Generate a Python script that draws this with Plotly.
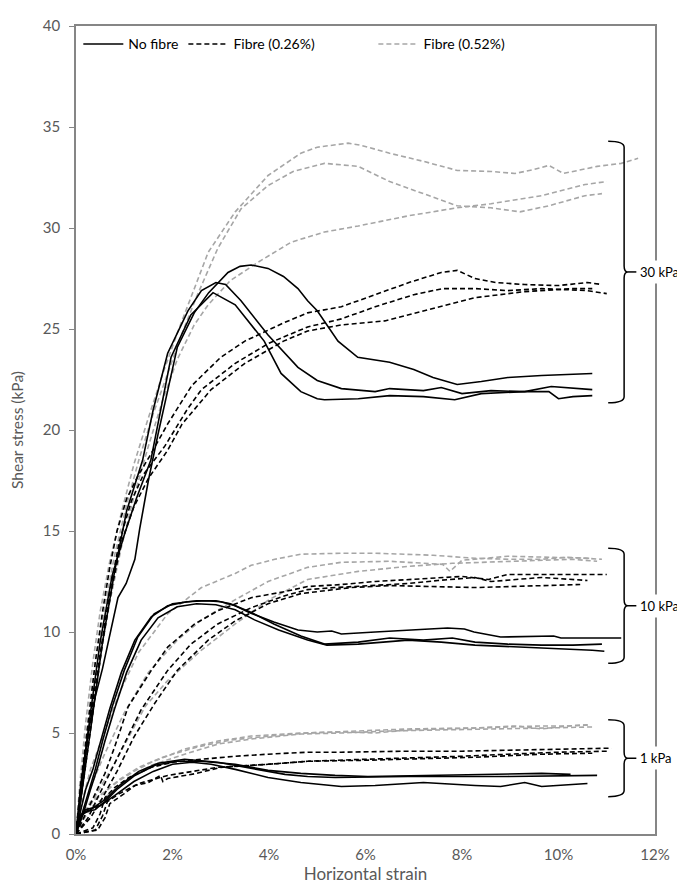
import plotly.graph_objects as go

# ---------------- DATA (strain in %, shear stress in kPa) ----------------
# 30 kPa, no fibre
x30_nf_a = [0, 0.1, 0.25, 0.4, 0.55, 0.7, 0.87, 1.04, 1.22, 1.32, 1.5, 1.7, 1.9, 2.1, 2.45, 2.75, 3.15, 3.4, 3.63, 3.98, 4.3, 4.6, 4.8, 5.0, 5.43, 5.84, 6.5, 7.0, 7.4, 7.9, 8.4, 8.95, 9.65, 10.7]
y30_nf_a = [0, 2.5, 5.0, 6.8, 8.2, 9.8, 11.7, 12.4, 13.6, 15.1, 17.5, 19.8, 22.0, 24.1, 25.8, 26.8, 27.8, 28.1, 28.17, 28.0, 27.6, 27.0, 26.4, 25.9, 24.4, 23.6, 23.35, 23.0, 22.6, 22.25, 22.4, 22.6, 22.7, 22.8]
x30_nf_b = [0, 0.15, 0.35, 0.55, 0.8, 1.05, 1.38, 1.6, 1.9, 2.32, 2.6, 2.9, 3.1, 3.42, 3.98, 4.6, 5.0, 5.5, 6.2, 6.5, 7.2, 7.57, 8.0, 8.6, 9.3, 9.85, 10.55, 10.7]
y30_nf_b = [0, 2.5, 6.0, 9.5, 13.0, 16.0, 18.5, 21.0, 23.8, 25.9, 26.9, 27.3, 27.2, 26.4, 24.7, 23.1, 22.45, 22.05, 21.9, 22.05, 21.95, 22.1, 21.8, 21.95, 21.9, 22.15, 22.05, 22.0]
x30_nf_c = [0, 0.12, 0.3, 0.5, 0.75, 1.0, 1.25, 1.55, 1.97, 2.38, 2.84, 3.3, 3.9, 4.25, 4.66, 5.0, 5.15, 5.85, 6.5, 7.2, 7.85, 8.4, 9.3, 9.8, 10.0, 10.3, 10.7]
y30_nf_c = [0, 2.5, 6.0, 9.5, 12.8, 14.8, 16.6, 18.5, 23.6, 25.7, 26.8, 26.2, 24.4, 22.8, 21.9, 21.55, 21.5, 21.55, 21.7, 21.65, 21.5, 21.8, 21.9, 21.9, 21.55, 21.65, 21.7]

# 30 kPa, fibre 0.26 %
x30_f26_a = [0, 0.1, 0.25, 0.4, 0.55, 0.7, 0.85, 1.05, 1.3, 1.55, 1.9, 2.4, 3.0, 3.5, 4.3, 4.8, 5.5, 6.2, 6.9, 7.57, 7.9, 8.27, 8.7, 9.3, 10.0, 10.6, 10.9]
y30_f26_a = [0, 2.5, 5.5, 8.5, 11.0, 13.2, 15.0, 16.6, 17.8, 18.8, 20.3, 22.2, 23.6, 24.4, 25.3, 25.8, 26.1, 26.7, 27.3, 27.8, 27.9, 27.5, 27.3, 27.2, 27.15, 27.3, 27.2]
x30_f26_b = [0, 0.12, 0.3, 0.5, 0.7, 0.9, 1.15, 1.4, 1.84, 2.3, 2.6, 3.3, 4.0, 4.8, 5.5, 6.2, 7.0, 7.6, 8.27, 8.95, 9.65, 10.6, 11.0]
y30_f26_b = [0, 2.5, 5.8, 9.0, 12.0, 14.5, 16.5, 17.8, 19.2, 21.0, 22.0, 23.3, 24.3, 25.1, 25.5, 26.1, 26.7, 27.0, 27.0, 26.9, 27.0, 26.9, 26.75]
x30_f26_c = [0, 0.15, 0.35, 0.55, 0.75, 0.95, 1.2, 1.5, 1.9, 2.2, 2.8, 3.5, 4.3, 4.8, 5.5, 6.4, 7.2, 8.27, 9.3, 10.3, 10.7]
y30_f26_c = [0, 2.5, 6.0, 9.5, 12.3, 14.5, 16.2, 17.6, 19.0, 20.3, 22.0, 23.3, 24.4, 24.9, 25.2, 25.4, 25.9, 26.55, 26.85, 27.0, 27.0]

# 30 kPa, fibre 0.52 %
x30_f52_a = [0, 0.08, 0.2, 0.35, 0.5, 0.7, 0.95, 1.2, 1.5, 1.8, 2.1, 2.32, 2.74, 3.3, 3.98, 4.66, 5.0, 5.64, 5.9, 6.5, 7.2, 7.9, 8.6, 9.1, 9.5, 9.8, 10.1, 10.8, 11.3, 11.65]
y30_f52_a = [0, 2.5, 5.5, 8.5, 11.0, 13.5, 16.0, 18.3, 20.6, 22.8, 24.8, 26.2, 28.8, 30.8, 32.6, 33.7, 34.0, 34.2, 34.1, 33.7, 33.3, 32.85, 32.8, 32.7, 32.9, 33.1, 32.7, 33.05, 33.2, 33.45]
x30_f52_b = [0, 0.1, 0.25, 0.4, 0.6, 0.8, 1.05, 1.3, 1.6, 1.9, 2.2, 2.5, 2.94, 3.42, 3.98, 4.5, 5.15, 5.85, 6.5, 7.2, 7.9, 8.6, 9.2, 9.8, 10.55, 10.9]
y30_f52_b = [0, 2.3, 5.5, 8.5, 11.3, 13.8, 16.3, 18.5, 20.8, 22.8, 24.8, 26.6, 29.0, 30.95, 32.1, 32.8, 33.2, 33.05, 32.3, 31.7, 31.1, 31.0, 30.8, 31.1, 31.6, 31.7]
x30_f52_c = [0, 0.12, 0.3, 0.5, 0.7, 0.95, 1.2, 1.5, 1.8, 2.1, 2.45, 2.74, 3.2, 3.77, 4.46, 5.15, 5.85, 6.88, 7.9, 8.6, 9.65, 10.55, 11.0]
y30_f52_c = [0, 2.5, 5.5, 8.7, 11.5, 14.3, 16.7, 19.2, 21.5, 23.5, 25.2, 26.2, 27.4, 28.3, 29.3, 29.8, 30.1, 30.6, 31.0, 31.2, 31.6, 32.15, 32.3]

# 10 kPa, no fibre
x10_nf_a = [0, 0.1, 0.2, 0.35, 0.5, 0.7, 0.94, 1.22, 1.56, 1.9, 2.3, 2.7, 3.0, 3.3, 3.6, 4.1, 4.6, 5.0, 5.3, 5.5, 6.2, 6.9, 7.7, 8.05, 8.25, 8.8, 9.5, 9.9, 10.05, 11.3]
y10_nf_a = [0, 1.2, 2.2, 3.2, 4.5, 6.2, 8.0, 9.6, 10.75, 11.3, 11.5, 11.55, 11.5, 11.3, 10.95, 10.5, 10.1, 10.0, 10.05, 9.9, 10.0, 10.1, 10.2, 10.15, 10.0, 9.75, 9.8, 9.8, 9.7, 9.7]
x10_nf_b = [0, 0.12, 0.25, 0.4, 0.55, 0.75, 1.0, 1.28, 1.62, 2.0, 2.5, 2.9, 3.2, 3.6, 4.1, 4.66, 5.15, 5.85, 6.5, 7.2, 7.8, 8.27, 8.95, 9.65, 10.3, 10.9]
y10_nf_b = [0, 1.0, 2.0, 3.2, 4.6, 6.3, 8.1, 9.75, 10.9, 11.4, 11.55, 11.55, 11.4, 11.0, 10.4, 9.8, 9.4, 9.5, 9.7, 9.6, 9.7, 9.5, 9.4, 9.35, 9.35, 9.4]
x10_nf_c = [0, 0.15, 0.3, 0.45, 0.6, 0.8, 1.05, 1.35, 1.7, 2.1, 2.5, 2.9, 3.3, 3.7, 4.2, 4.8, 5.2, 5.85, 6.88, 7.57, 8.27, 9.3, 10.0, 10.7, 10.95]
y10_nf_c = [0, 1.0, 2.2, 3.3, 4.6, 6.2, 8.0, 9.6, 10.7, 11.25, 11.4, 11.35, 11.1, 10.6, 10.1, 9.6, 9.35, 9.4, 9.6, 9.5, 9.35, 9.25, 9.2, 9.1, 9.05]

# 10 kPa, fibre 0.26 %
x10_f26_a = [0, 0.2, 0.4, 0.6, 0.8, 1.08, 1.56, 1.9, 2.46, 2.94, 3.63, 4.33, 4.8, 5.5, 6.2, 6.9, 7.57, 8.0, 8.55, 8.95, 10.0, 11.0]
y10_f26_a = [0, 1.0, 2.0, 3.0, 4.3, 6.3, 8.1, 9.25, 10.4, 11.05, 11.7, 12.0, 12.25, 12.35, 12.5, 12.6, 12.7, 12.75, 12.6, 12.85, 12.85, 12.85]
x10_f26_b = [0, 0.25, 0.45, 0.7, 1.0, 1.35, 1.9, 2.38, 2.94, 3.63, 4.33, 4.8, 5.37, 6.05, 6.88, 7.5, 8.27, 8.6, 9.2, 9.65, 10.6]
y10_f26_b = [0, 0.8, 1.8, 3.0, 4.5, 6.15, 8.1, 9.4, 10.4, 11.2, 11.8, 12.1, 12.2, 12.3, 12.4, 12.55, 12.7, 12.5, 12.6, 12.7, 12.55]
x10_f26_c = [0, 0.3, 0.55, 0.85, 1.2, 1.64, 2.1, 2.74, 3.3, 3.98, 4.66, 5.7, 6.5, 7.4, 8.27, 9.0, 9.65, 10.45]
y10_f26_c = [0, 0.8, 1.8, 3.1, 4.8, 6.5, 8.1, 9.6, 10.55, 11.4, 11.9, 12.2, 12.3, 12.25, 12.2, 12.25, 12.3, 12.35]

# 10 kPa, fibre 0.52 %
x10_f52_a = [0, 0.12, 0.3, 0.5, 0.9, 1.3, 1.9, 2.6, 3.3, 3.63, 4.12, 4.66, 5.5, 6.2, 6.8, 7.4, 8.27, 9.0, 9.65, 10.2, 10.9]
y10_f52_a = [0, 1.5, 3.2, 4.5, 7.0, 9.0, 10.9, 12.2, 12.9, 13.3, 13.6, 13.85, 13.9, 13.9, 13.85, 13.8, 13.65, 13.6, 13.6, 13.7, 13.6]
x10_f52_b = [0, 0.15, 0.35, 0.6, 1.0, 1.5, 2.1, 2.6, 3.3, 3.98, 4.8, 5.5, 6.5, 7.3, 7.6, 7.75, 8.0, 8.95, 10.0, 10.7]
y10_f52_b = [0, 1.2, 2.6, 4.0, 6.0, 8.0, 9.6, 10.6, 11.6, 12.5, 13.2, 13.45, 13.5, 13.4, 13.35, 13.0, 13.55, 13.75, 13.7, 13.65]
x10_f52_c = [0, 0.2, 0.5, 0.8, 1.43, 1.9, 2.6, 3.3, 4.0, 4.8, 5.85, 6.88, 7.8, 8.95, 10.3, 10.8]
y10_f52_c = [0, 1.0, 2.3, 3.5, 6.3, 7.6, 9.1, 10.4, 11.6, 12.6, 13.0, 13.25, 13.4, 13.5, 13.6, 13.5]

# 1 kPa, no fibre
x1_nf_a = [0, 0.04, 0.18, 0.39, 0.6, 0.87, 1.22, 1.64, 2.1, 2.6, 3.3, 3.98, 4.66, 5.37, 6.05, 7.57, 8.95, 9.65, 10.25]
y1_nf_a = [0, 0.6, 1.1, 1.2, 1.6, 2.25, 2.9, 3.4, 3.6, 3.6, 3.45, 3.15, 3.0, 2.9, 2.85, 2.9, 2.95, 3.0, 2.95]
x1_nf_b = [0, 0.05, 0.2, 0.5, 0.8, 1.2, 1.6, 2.0, 2.4, 2.8, 3.3, 3.98, 4.66, 5.5, 6.2, 7.2, 8.27, 8.8, 9.3, 9.65, 10.6]
y1_nf_b = [0, 0.8, 1.2, 1.4, 1.9, 2.6, 3.1, 3.45, 3.55, 3.45, 3.2, 2.8, 2.55, 2.35, 2.4, 2.55, 2.4, 2.35, 2.55, 2.35, 2.5]
x1_nf_c = [0, 0.08, 0.3, 0.6, 0.9, 1.3, 1.7, 2.25, 2.94, 3.63, 4.33, 4.8, 5.37, 6.88, 8.95, 10.8]
y1_nf_c = [0, 0.9, 1.2, 1.7, 2.4, 3.1, 3.5, 3.7, 3.55, 3.25, 2.95, 2.85, 2.8, 2.85, 2.85, 2.9]

# 1 kPa, fibre 0.26 %
x1_f26_a = [0, 0.35, 0.5, 0.6, 0.8, 1.1, 1.56, 2.0, 2.6, 3.3, 3.98, 4.8, 5.5, 6.88, 8.0, 8.95, 10.0, 11.1]
y1_f26_a = [0, 0.3, 1.0, 1.8, 2.3, 2.8, 3.3, 3.55, 3.7, 3.85, 3.95, 4.05, 4.05, 4.1, 4.1, 4.15, 4.2, 4.25]
x1_f26_b = [0, 0.4, 0.55, 0.65, 0.9, 1.3, 1.9, 2.5, 2.94, 3.98, 4.8, 5.37, 6.88, 8.0, 8.95, 10.0, 11.0]
y1_f26_b = [0, 0.2, 0.9, 1.6, 2.0, 2.5, 2.9, 3.15, 3.3, 3.45, 3.6, 3.65, 3.75, 3.85, 3.95, 4.05, 4.1]
x1_f26_c = [0, 0.45, 0.6, 0.7, 1.0, 1.22, 1.5, 1.75, 1.8, 1.9, 2.5, 3.0, 3.98, 4.8, 6.0, 7.0, 8.27, 9.65, 10.7]
y1_f26_c = [0, 0.2, 0.8, 1.5, 2.0, 2.4, 2.55, 2.9, 2.6, 2.75, 3.0, 3.3, 3.45, 3.6, 3.65, 3.7, 3.8, 3.95, 4.0]

# 1 kPa, fibre 0.52 %
x1_f52_a = [0, 0.1, 0.3, 0.55, 0.87, 1.2, 1.56, 2.25, 2.94, 3.63, 4.66, 5.5, 6.2, 6.9, 7.57, 8.3, 9.1, 9.65, 10.2, 10.65]
y1_f52_a = [0, 0.8, 1.5, 2.0, 2.6, 3.1, 3.55, 4.2, 4.6, 4.85, 5.0, 5.05, 5.0, 5.15, 5.2, 5.25, 5.35, 5.2, 5.35, 5.4]
x1_f52_b = [0, 0.15, 0.35, 0.65, 1.0, 1.56, 2.25, 2.94, 3.63, 4.66, 5.5, 6.5, 7.5, 8.95, 9.8, 10.7]
y1_f52_b = [0, 0.7, 1.4, 1.9, 2.6, 3.4, 3.95, 4.45, 4.7, 4.95, 5.0, 5.1, 5.15, 5.2, 5.25, 5.3]
x1_f52_c = [0, 0.12, 0.3, 0.6, 0.9, 1.3, 1.8, 2.5, 3.2, 4.0, 4.8, 5.8, 6.88, 8.27, 9.0, 9.65, 10.2, 10.6]
y1_f52_c = [0, 0.9, 1.6, 2.1, 2.7, 3.3, 3.8, 4.3, 4.65, 4.85, 5.0, 5.1, 5.2, 5.25, 5.3, 5.35, 5.35, 5.4]

x_ticks = [0, 2, 4, 6, 8, 10, 12]
y_ticks = [0, 5, 10, 15, 20, 25, 30, 35, 40]
series_names = ["No fibre", "Fibre (0.26%)", "Fibre (0.52%)"]
bracket_labels = ["30 kPa", "10 kPa", "1 kPa"]
bracket_top = [34.3, 14.15, 5.65]
bracket_bottom = [21.35, 8.45, 1.85]

# ---------------- FIGURE ----------------
BLACK = "#000000"
GREY = "#A6A6A6"
styles = {
    "No fibre": dict(color=BLACK, width=1.6, dash="solid"),
    "Fibre (0.26%)": dict(color=BLACK, width=1.6, dash="5px,3px"),
    "Fibre (0.52%)": dict(color=GREY, width=1.6, dash="5px,3px"),
}
rank = {"No fibre": 1, "Fibre (0.26%)": 2, "Fibre (0.52%)": 3}
# extra spacing after an entry in the legend (non-breaking spaces)
legend_pad = {"No fibre": 0, "Fibre (0.26%)": 15, "Fibre (0.52%)": 0}

groups = {
    "Fibre (0.52%)": [(x30_f52_a, y30_f52_a), (x30_f52_b, y30_f52_b), (x30_f52_c, y30_f52_c),
                      (x10_f52_a, y10_f52_a), (x10_f52_b, y10_f52_b), (x10_f52_c, y10_f52_c),
                      (x1_f52_a, y1_f52_a), (x1_f52_b, y1_f52_b), (x1_f52_c, y1_f52_c)],
    "Fibre (0.26%)": [(x30_f26_a, y30_f26_a), (x30_f26_b, y30_f26_b), (x30_f26_c, y30_f26_c),
                      (x10_f26_a, y10_f26_a), (x10_f26_b, y10_f26_b), (x10_f26_c, y10_f26_c),
                      (x1_f26_a, y1_f26_a), (x1_f26_b, y1_f26_b), (x1_f26_c, y1_f26_c)],
    "No fibre": [(x30_nf_a, y30_nf_a), (x30_nf_b, y30_nf_b), (x30_nf_c, y30_nf_c),
                 (x10_nf_a, y10_nf_a), (x10_nf_b, y10_nf_b), (x10_nf_c, y10_nf_c),
                 (x1_nf_a, y1_nf_a), (x1_nf_b, y1_nf_b), (x1_nf_c, y1_nf_c)],
}

fig = go.Figure()
for name, curves in groups.items():
    label = name + "\u00a0" * legend_pad[name]
    for i, (xs, ys) in enumerate(curves):
        fig.add_trace(go.Scatter(
            x=xs, y=ys, mode="lines", name=label, legendgroup=name,
            showlegend=(i == 0), legendrank=rank[name],
            line=styles[name], hoverinfo="skip"))

FONT = "Lato, 'Open Sans', sans-serif"
TXT = "#595959"

# brackets "}" on the right
shapes = []
annotations = []
xl, xv, xt, xe = 11.03, 11.36, 11.44, 11.62
for lab, yt, yb in zip(bracket_labels, bracket_top, bracket_bottom):
    ym = (yt + yb) / 2
    r = 0.3
    path = (f"M {xl},{yt} Q {xv},{yt} {xv},{yt - r} "
            f"L {xv},{ym + r} Q {xv},{ym} {xt},{ym} "
            f"Q {xv},{ym} {xv},{ym - r} "
            f"L {xv},{yb + r} Q {xv},{yb} {xl},{yb}")
    shapes.append(dict(type="path", path=path, xref="x", yref="y",
                       line=dict(color=BLACK, width=1.5)))
    shapes.append(dict(type="line", x0=xt, x1=xe, y0=ym, y1=ym, xref="x", yref="y",
                       line=dict(color=BLACK, width=1.5)))
    annotations.append(dict(text=lab, x=(628 - 68) / 579, y=ym, xref="paper", yref="y",
                            xanchor="left", yanchor="middle", showarrow=False,
                            bgcolor="white", borderpad=3,
                            font=dict(family=FONT, size=13, color=BLACK)))

fig.update_layout(
    width=685, height=885,
    margin=dict(l=68, r=38, t=8, b=59),
    paper_bgcolor="white", plot_bgcolor="white",
    font=dict(family=FONT, size=15, color=TXT),
    showlegend=True,
    legend=dict(orientation="h", x=0.004, y=0.997, xanchor="left", yanchor="top",
                bgcolor="rgba(0,0,0,0)", font=dict(family=FONT, size=14, color=BLACK),
                itemwidth=40, tracegroupgap=0),
    shapes=shapes, annotations=annotations,
    xaxis=dict(range=[0, 12], tickvals=x_ticks, ticktext=[f"{v}%" for v in x_ticks],
               showgrid=False, zeroline=False, showline=True, linecolor="#868686",
               linewidth=1.5, mirror=True, ticks="", ticklabelstandoff=6,
               title=dict(text="Horizontal strain", font=dict(size=17, color=TXT), standoff=4),
               tickfont=dict(size=15, color=TXT)),
    yaxis=dict(range=[0, 40], tickvals=y_ticks, showgrid=False, zeroline=False,
               showline=True, linecolor="#868686", linewidth=1.5, mirror=True,
               ticks="outside", ticklen=5, tickcolor="#868686", ticklabelstandoff=6,
               title=dict(text="Shear stress (kPa)", font=dict(size=15.5, color=TXT), standoff=16),
               tickfont=dict(size=15, color=TXT)),
)

fig.write_html("out.html")
